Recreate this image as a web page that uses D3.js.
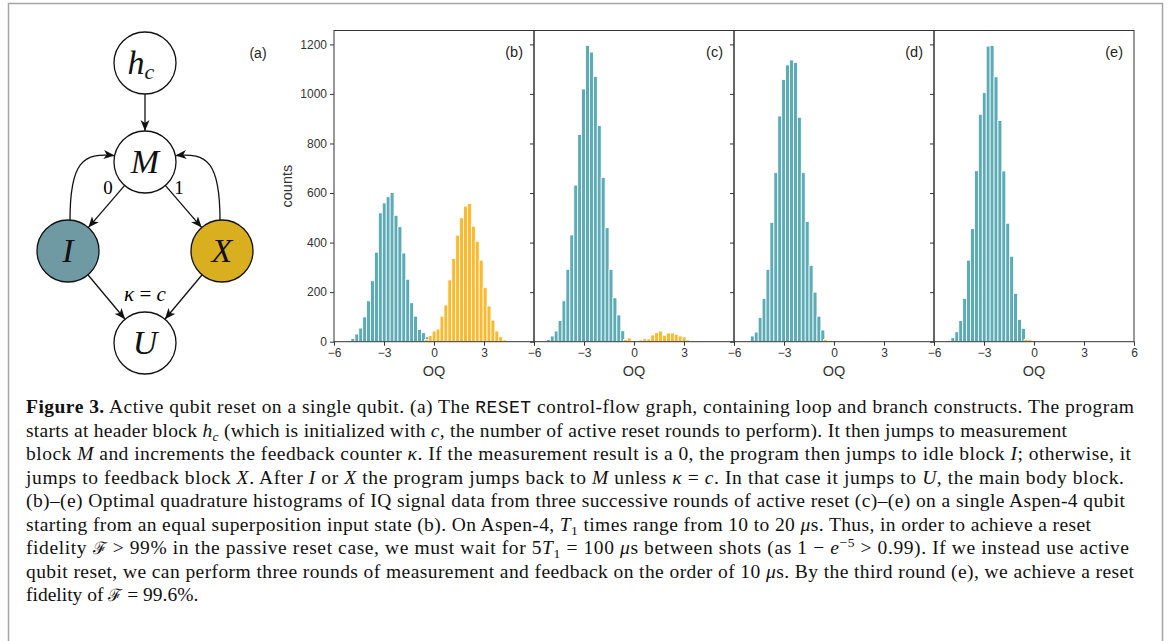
<!DOCTYPE html>
<html>
<head>
<meta charset="utf-8">
<script src="https://d3js.org/d3.v7.min.js"></script>
<style>
  body { margin: 0; background: #fff; }
  svg { display: block; }
</style>
</head>
<body>
<svg id="fig" width="1171" height="641"></svg>
<script>
// histogram counts (bin width ~0.235 in OQ)
var binWidth = 0.235;

var bTealStart = -5.1;
var bTeal = [4, 13, 31, 55, 100, 165, 246, 361, 520, 560, 585, 602, 510, 464, 358, 252, 157, 103, 50, 36, 20];
var bGoldStart = -0.46;
var bGold = [8, 25, 43, 51, 103, 148, 249, 336, 430, 500, 547, 558, 466, 405, 329, 218, 144, 87, 43, 20, 7];

var cTealStart = -5.14;
var cTeal = [9, 23, 43, 85, 165, 292, 431, 632, 836, 1020, 1196, 1169, 1071, 872, 663, 460, 292, 177, 108, 44];
var cGoldStart = -0.52;
var cGold = [9, 15, 3, 5, 7, 12, 11, 27, 36, 43, 26, 35, 35, 30, 23, 19, 7, 4];

var dTealStart = -4.9;
var dTeal = [23, 39, 98, 175, 292, 481, 682, 911, 1058, 1117, 1137, 1127, 906, 682, 485, 308, 200, 103, 47];
var dGoldStart = -0.52;
var dGold = [9, 5, 1, 0, 0, 0, 0, 0, 0, 0, 2, 3, 2];

var eTealStart = -5.1;
var eTeal = [5, 16, 40, 85, 175, 329, 456, 690, 918, 1005, 1193, 1195, 1069, 893, 689, 478, 345, 195, 90, 54, 13];
var eGoldStart = -0.48;
var eGold = [9, 8];

var panelLabels = ['(b)', '(c)', '(d)', '(e)'];
var xTicks = [-6, -3, 0, 3, 6];
var yTicks = [0, 200, 400, 600, 800, 1000, 1200];

// control-flow graph (a)
var nodes = [
  {id: 'h', col: 1, row: 0, fill: '#fff'},
  {id: 'M', col: 1, row: 1, fill: '#fff'},
  {id: 'I', col: 0, row: 2, fill: '#6f9aa4'},
  {id: 'X', col: 2, row: 2, fill: '#d9ae1f'},
  {id: 'U', col: 1, row: 3, fill: '#fff'}
];
var edges = [
  {from: 'h', to: 'M'},
  {from: 'M', to: 'I'},
  {from: 'M', to: 'X'},
  {from: 'I', to: 'U'},
  {from: 'X', to: 'U'},
  {from: 'I', to: 'M', bend: -1},
  {from: 'X', to: 'M', bend: 1}
];

var caption = [
  [['Figure 3.', 'b'], [' Active qubit reset on a single qubit. (a) The '], ['RESET', 'm'], [' control-flow graph, containing loop and branch constructs. The program']],
  [['starts at header block '], ['h', 'i'], ['c', 'isub'], [' (which is initialized with '], ['c', 'i'], [', the number of active reset rounds to perform). It then jumps to measurement']],
  [['block '], ['M', 'i'], [' and increments the feedback counter '], ['κ', 'i'], ['. If the measurement result is a 0, the program then jumps to idle block '], ['I', 'i'], ['; otherwise, it']],
  [['jumps to feedback block '], ['X', 'i'], ['. After '], ['I', 'i'], [' or '], ['X', 'i'], [' the program jumps back to '], ['M', 'i'], [' unless '], ['κ', 'i'], [' = '], ['c', 'i'], ['. In that case it jumps to '], ['U', 'i'], [', the main body block.']],
  [['(b)–(e) Optimal quadrature histograms of IQ signal data from three successive rounds of active reset (c)–(e) on a single Aspen-4 qubit']],
  [['starting from an equal superposition input state (b). On Aspen-4, '], ['T', 'i'], ['1', 'sub'], [' times range from 10 to 20 '], ['μ', 'i'], ['s. Thus, in order to achieve a reset']],
  [['fidelity '], ['ℱ', 's'], [' > 99% in the passive reset case, we must wait for 5'], ['T', 'i'], ['1', 'sub'], [' = 100 '], ['μ', 'i'], ['s between shots (as 1 − '], ['e', 'i'], ['−5', 'sup'], [' > 0.99). If we instead use active']],
  [['qubit reset, we can perform three rounds of measurement and feedback on the order of 10 '], ['μ', 'i'], ['s. By the third round (e), we achieve a reset']],
  [['fidelity of '], ['ℱ', 's'], [' = 99.6%.']]
];
// right edge of each caption line (null = natural width)
var captionRight = [1134, 1067, 1131, 1124, 1125, 1091, 1129, 1134, null];

var teal = '#5cabb5';
var gold = '#fbb92b';

var svg = d3.select('#fig');

// outer frame
svg.append('rect')
  .attr('x', 8.5).attr('y', 3.5)
  .attr('width', 1154).attr('height', 700)
  .style('fill', 'none')
  .style('stroke', '#a4a4a4')
  .style('stroke-width', 1.5);

// ---------- (a) graph ----------
var gx = d3.scaleLinear().domain([0, 2]).range([68, 222]);
var gy = d3.scaleOrdinal().domain([0, 1, 2, 3]).range([63, 162, 251, 343]);
var r = 31;
var byId = {};
nodes.forEach(function (n) { n.x = gx(n.col); n.y = gy(n.row); byId[n.id] = n; });

svg.append('defs').append('marker')
  .attr('id', 'arrow')
  .attr('viewBox', '0 -5 12 10')
  .attr('refX', 11).attr('refY', 0)
  .attr('markerUnits', 'userSpaceOnUse')
  .attr('markerWidth', 12).attr('markerHeight', 10)
  .attr('orient', 'auto')
  .append('path')
  .attr('d', 'M0,-4.5L11,0L0,4.5L3,0Z')
  .style('fill', '#111');

var graph = svg.append('g');

graph.selectAll('path.edge')
  .data(edges)
  .enter().append('path')
  .attr('class', 'edge')
  .attr('d', function (e) {
    var a = byId[e.from], b = byId[e.to];
    if (!e.bend) {
      var dx = b.x - a.x, dy = b.y - a.y, len = Math.sqrt(dx * dx + dy * dy);
      var ux = dx / len, uy = dy / len;
      return 'M' + (a.x + r * ux) + ',' + (a.y + r * uy) + 'L' + (b.x - r * ux) + ',' + (b.y - r * uy);
    }
    // loop-back arcs: leave from top of I / X, arrive at side of M
    var sx = a.x - 2 * e.bend, sy = a.y - r;
    var ang = Math.PI / 180 * 12;
    var ex = b.x + e.bend * r * Math.cos(ang), ey = b.y - r * Math.sin(ang);
    var p = d3.path();
    p.moveTo(sx, sy);
    p.bezierCurveTo(sx, sy - 58, ex + e.bend * 32, ey - 3, ex, ey);
    return p.toString();
  })
  .style('fill', 'none')
  .style('stroke', '#111')
  .style('stroke-width', 1.3)
  .attr('marker-end', 'url(#arrow)');

graph.selectAll('circle.node')
  .data(nodes)
  .enter().append('circle')
  .attr('class', 'node')
  .attr('cx', function (d) { return d.x; })
  .attr('cy', function (d) { return d.y; })
  .attr('r', r)
  .style('fill', function (d) { return d.fill; })
  .style('stroke', '#111')
  .style('stroke-width', 1.3);

var nodeText = graph.selectAll('text.node')
  .data(nodes)
  .enter().append('text')
  .attr('class', 'node')
  .attr('x', function (d) { return d.id === 'h' ? d.x - 4 : d.x; })
  .attr('y', function (d) { return d.y + 11; })
  .attr('text-anchor', 'middle')
  .style('font-family', '"Liberation Serif", serif')
  .style('font-style', 'italic')
  .style('font-size', '34px')
  .style('fill', '#111');
nodeText.append('tspan').text(function (d) { return d.id; });
nodeText.filter(function (d) { return d.id === 'h'; })
  .append('tspan').attr('dy', 5).style('font-size', '22px').text('c');

graph.append('text').attr('x', byId.M.x - 37).attr('y', byId.M.y + 32)
  .attr('text-anchor', 'middle')
  .style('font-family', '"Liberation Serif", serif').style('font-size', '19px')
  .text('0');
graph.append('text').attr('x', byId.M.x + 34).attr('y', byId.M.y + 32)
  .attr('text-anchor', 'middle')
  .style('font-family', '"Liberation Serif", serif').style('font-size', '19px')
  .text('1');
var kap = graph.append('text').attr('x', byId.U.x).attr('y', byId.U.y - 42)
  .attr('text-anchor', 'middle')
  .style('font-family', '"Liberation Serif", serif').style('font-size', '21px');
kap.append('tspan').style('font-style', 'italic').text('κ');
kap.append('tspan').text(' = ');
kap.append('tspan').style('font-style', 'italic').text('c');

svg.append('text').attr('x', 258).attr('y', 58)
  .attr('text-anchor', 'middle')
  .style('font-family', '"Liberation Sans", Arial, sans-serif')
  .style('font-size', '14px').style('fill', '#222')
  .text('(a)');

// ---------- (b)-(e) histograms ----------
var panelData = [
  [{start: bTealStart, counts: bTeal, color: teal}, {start: bGoldStart, counts: bGold, color: gold}],
  [{start: cTealStart, counts: cTeal, color: teal}, {start: cGoldStart, counts: cGold, color: gold}],
  [{start: dTealStart, counts: dTeal, color: teal}, {start: dGoldStart, counts: dGold, color: gold}],
  [{start: eTealStart, counts: eTeal, color: teal}, {start: eGoldStart, counts: eGold, color: gold}]
];

var plotLeft = 334, plotW = 200, plotTop = 30.5, plotBottom = 341.7;
var y = d3.scaleLinear().domain([0, 1256]).range([plotBottom, plotTop]);

panelData.forEach(function (series, i) {
  var x0 = plotLeft + i * plotW;
  var last = i === panelData.length - 1;
  var x = d3.scaleLinear().domain([-6, 6]).range([x0, x0 + plotW]);
  var g = svg.append('g');

  series.forEach(function (s) {
    var bins = s.counts.map(function (c, k) {
      return {x: s.start + k * binWidth, c: c};
    }).filter(function (b) { return b.c > 0; });
    g.selectAll(null)
      .data(bins)
      .enter().append('rect')
      .attr('x', function (b) { return x(b.x - binWidth / 2); })
      .attr('width', function () { return x(binWidth) - x(0); })
      .attr('y', function (b) { return y(b.c); })
      .attr('height', function (b) { return y(0) - y(b.c); })
      .style('fill', s.color)
      .style('stroke', '#fff')
      .style('stroke-width', 0.8);
  });

  g.append('rect')
    .attr('x', x0).attr('y', plotTop)
    .attr('width', plotW).attr('height', plotBottom - plotTop)
    .style('fill', 'none').style('stroke', '#333').style('stroke-width', 1);

  // the "6" of a panel sits under the next panel's "−6", so only the last one shows it
  var xa = g.append('g')
    .attr('transform', 'translate(0,' + plotBottom + ')')
    .call(d3.axisBottom(x).tickValues(xTicks).tickSize(4).tickPadding(3)
      .tickFormat(function (d) {
        if (d === 6 && !last) return '';
        return d < 0 ? '−' + Math.abs(d) : String(d);
      }));
  xa.select('.domain').remove();

  var ya = g.append('g')
    .attr('transform', 'translate(' + x0 + ',0)')
    .call(d3.axisLeft(y).tickValues(yTicks).tickSize(4).tickPadding(3)
      .tickFormat(function (d) { return i === 0 ? String(d) : ''; }));
  ya.select('.domain').remove();

  g.selectAll('.tick line').style('stroke', '#333');
  g.selectAll('.tick text')
    .style('font-family', '"Liberation Sans", Arial, sans-serif')
    .style('font-size', '12px').style('fill', '#333');

  g.append('text')
    .attr('x', x0 + plotW / 2).attr('y', 376)
    .attr('text-anchor', 'middle')
    .style('font-family', '"Liberation Sans", Arial, sans-serif')
    .style('font-size', '14.5px').style('fill', '#333')
    .text('OQ');

  g.append('text')
    .attr('x', x0 + plotW - 11).attr('y', 57)
    .attr('text-anchor', 'end')
    .style('font-family', '"Liberation Sans", Arial, sans-serif')
    .style('font-size', '14.5px').style('fill', '#222')
    .text(panelLabels[i]);
});

svg.append('text')
  .attr('transform', 'translate(292,' + (plotTop + plotBottom) / 2 + ') rotate(-90)')
  .attr('text-anchor', 'middle')
  .style('font-family', '"Liberation Sans", Arial, sans-serif')
  .style('font-size', '14.5px').style('fill', '#333')
  .text('counts');

// ---------- caption ----------
var capLeft = 26, capTop = 413, capStep = 23.5;
caption.forEach(function (line, li) {
  var t = svg.append('text')
    .attr('x', capLeft).attr('y', capTop + li * capStep)
    .style('font-family', '"Liberation Serif", serif')
    .style('font-size', '19.5px').style('fill', '#111');
  if (captionRight[li]) {
    t.attr('textLength', captionRight[li] - capLeft).attr('lengthAdjust', 'spacing');
  }
  var shift = 0;
  line.forEach(function (seg) {
    var st = seg[1] || '';
    var want = (st === 'sub' || st === 'isub') ? 4 : (st === 'sup' ? -7 : 0);
    var sp = t.append('tspan').text(seg[0]);
    if (want !== shift) { sp.attr('dy', want - shift); shift = want; }
    if (st === 'b') sp.style('font-weight', 'bold');
    if (st === 'i' || st === 'isub') sp.style('font-style', 'italic');
    if (st === 'm') sp.style('font-family', '"Liberation Mono", monospace').style('font-size', '18px');
    if (st === 's') sp.style('font-family', '"DejaVu Serif", serif').style('font-size', '17px');
    if (st === 'sub' || st === 'isub' || st === 'sup') sp.style('font-size', '13.5px');
  });
});
</script>
</body>
</html>
